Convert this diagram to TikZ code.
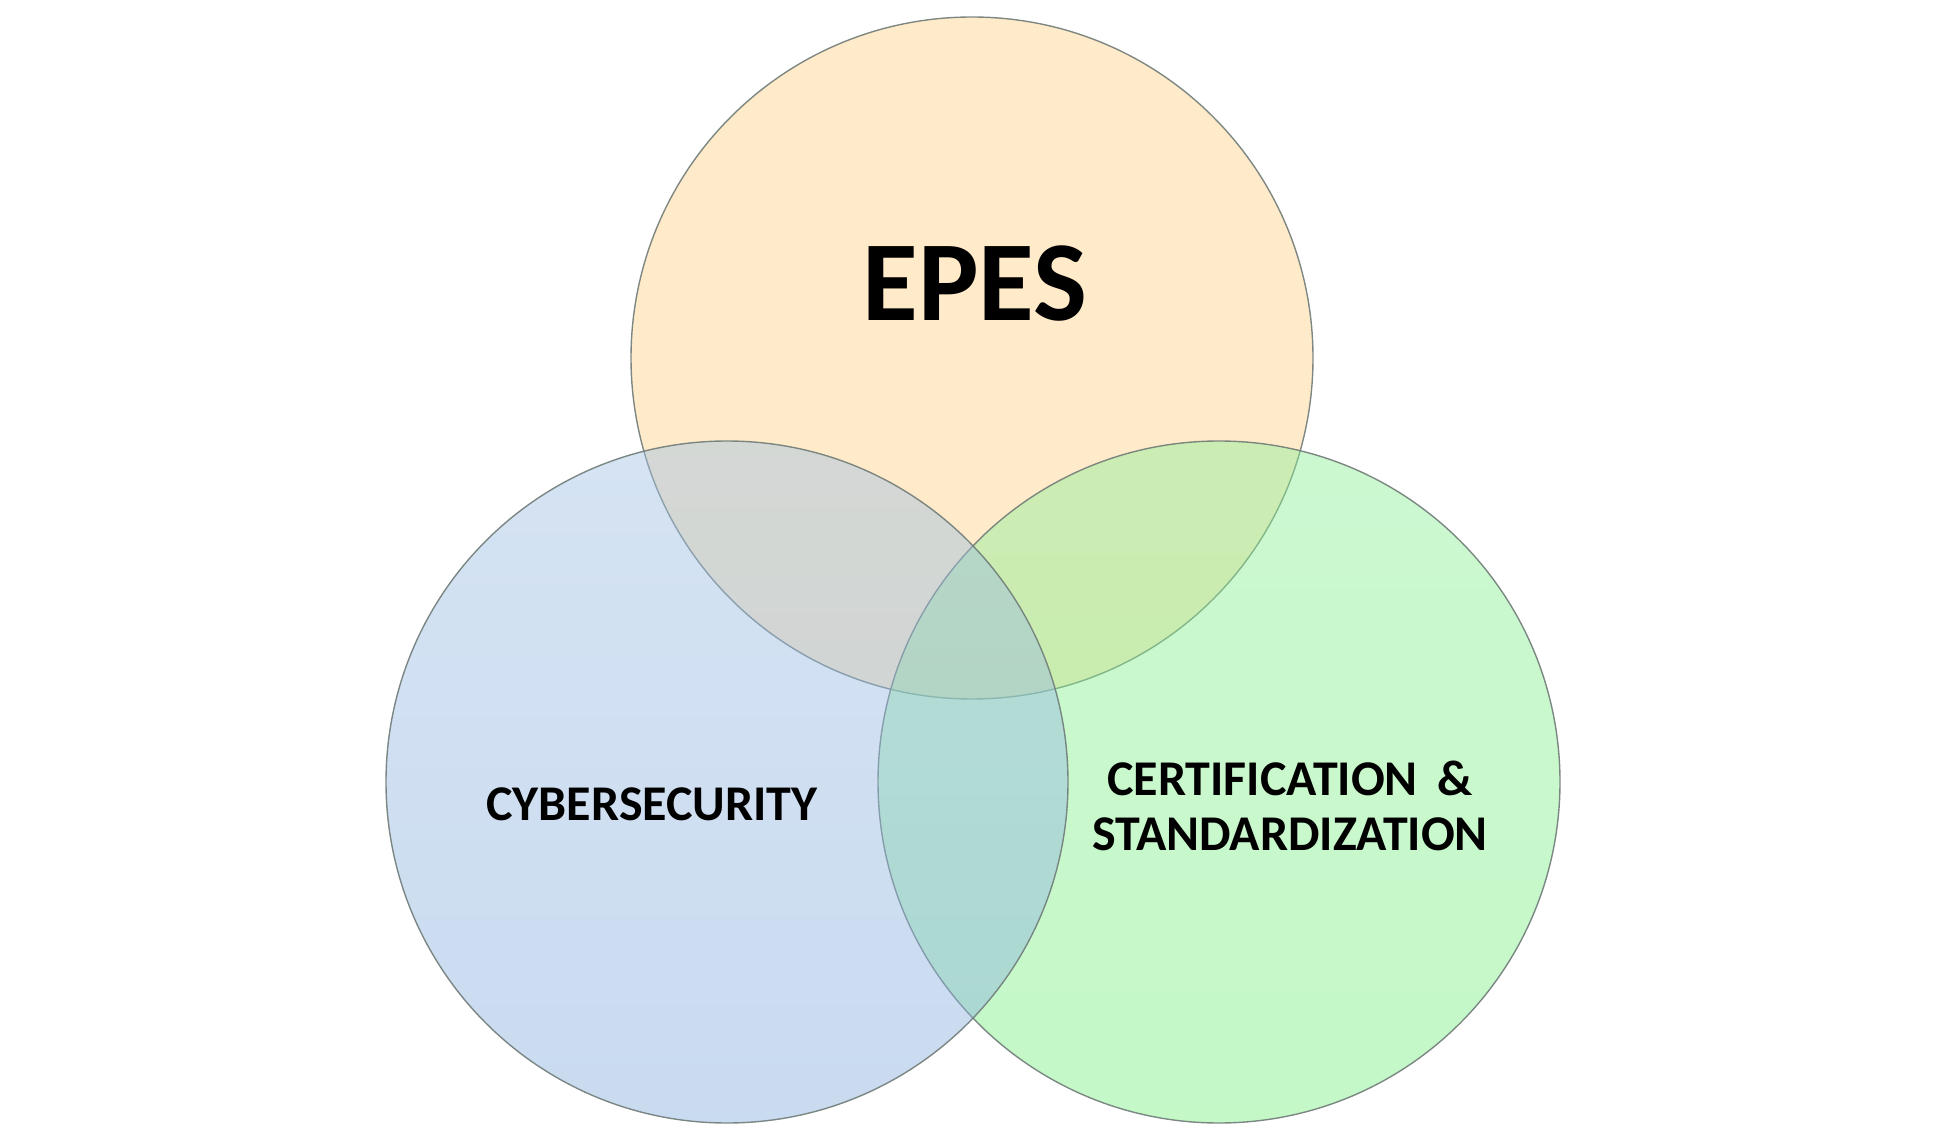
\documentclass[tikz,border=0pt]{standalone}
\usepackage{fontspec}
\setmainfont{Carlito}
\usepackage{tikz}
\usetikzlibrary{calc,shapes,positioning}

\definecolor{epescol}{RGB}{255,210,135}
\definecolor{cybertop}{RGB}{162,193,228}
\definecolor{cyberbot}{RGB}{136,175,222}
\definecolor{certtop}{RGB}{142,239,152}
\definecolor{certbot}{RGB}{124,239,131}
\definecolor{rimcol}{RGB}{112,124,120}

\begin{document}
\begin{tikzpicture}[x=0.5pt,y=-0.5pt]
  \useasboundingbox (0,0) rectangle (1944,1139);
  \tikzstyle{vnode} = [circle, draw=rimcol, line width=0.7pt, fill opacity=0.45, draw opacity=0.9, minimum size=341pt, inner sep=0pt]
  \tikzstyle{lnode} = [align=center, font=\bfseries\fontsize{25}{27.5}\selectfont, inner sep=0pt]

  % the three sets
  \node[vnode, fill=epescol] (epes) at (972,358) {};
  \node[vnode, top color=certtop, bottom color=certbot] (cert) at (1219,782) {};
  \node[vnode, top color=cybertop, bottom color=cyberbot] (cyber) at (727,782) {};

  % labels
  \node[inner sep=0pt, font=\bfseries\fontsize{57}{62}\selectfont] (epeslbl) at ($(epes)+(3,-74)$) {EPES};
  \node[lnode] (cyberlbl) at ($(cyber)+(-75,22)$) {CYBERSECURITY};
  \node[lnode] (certlbl) at ($(cert)+(71,24)$) {CERTIFICATION \,\&\\STANDARDIZATION};
\end{tikzpicture}
\end{document}
